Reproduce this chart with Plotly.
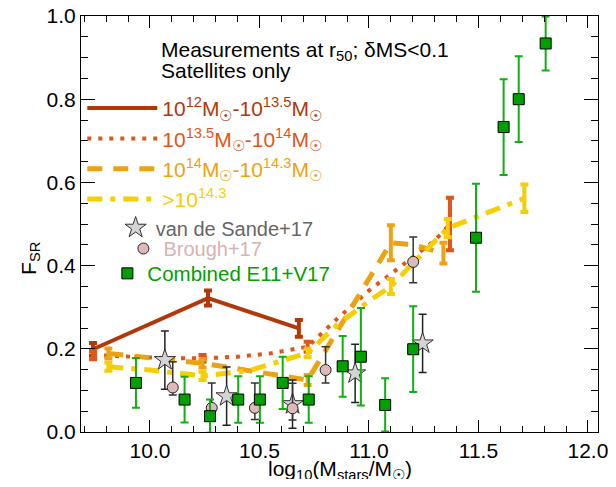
import plotly.graph_objects as go

# ---------------- data ----------------
# 10^12 - 10^13.5 Msun (solid)
solid_x = [9.74, 10.265, 10.68]
solid_y = [0.199, 0.322, 0.249]
solid_err = [0.015, 0.018, 0.02]

# 10^13.5 - 10^14 Msun (dotted)
dotted_x = [9.74, 9.9, 10.05, 10.24, 10.4, 10.55, 10.72, 10.85, 11.0, 11.15, 11.3, 11.37]
dotted_y = [0.185, 0.181, 0.178, 0.177, 0.181, 0.189, 0.205, 0.27, 0.34, 0.40, 0.46, 0.50]
dotted_err = [0.01, 0, 0, 0.008, 0, 0, 0.012, 0, 0, 0, 0, 0.063]

# 10^14 - 10^14.3 Msun (dashed)
dashed_x = [9.81, 10.05, 10.24, 10.4, 10.6, 10.72, 11.1, 11.2, 11.34]
dashed_y = [0.189, 0.175, 0.165, 0.152, 0.135, 0.125, 0.455, 0.45, 0.43]
dashed_err = [0.012, 0, 0.01, 0, 0, 0.012, 0.042, 0, 0.025]

# > 10^14.3 Msun (dash-dot)
dashdot_x = [9.81, 10.0, 10.24, 10.45, 10.72, 10.85, 11.0, 11.1, 11.2, 11.36, 11.71]
dashdot_y = [0.157, 0.149, 0.135, 0.147, 0.19, 0.255, 0.315, 0.35, 0.405, 0.49, 0.562]
dashdot_err = [0.01, 0, 0.01, 0, 0.01, 0, 0, 0.018, 0, 0.022, 0.033]

# van de Sande+17 (stars)
star_x = [10.068, 10.350, 10.651, 10.937, 11.245]
star_y = [0.173, 0.086, 0.067, 0.141, 0.213]
star_err = [0.07, 0.07, 0.058, 0.07, 0.07]

# Brough+17 (circles)
circ_x = [10.104, 10.282, 10.479, 10.651, 10.802, 11.202]
circ_y = [0.107, 0.058, 0.058, 0.057, 0.149, 0.409]
circ_err_plus = [0.062, 0.06, 0.06, 0.06, 0.056, 0.06]
circ_err_minus = [0.018, 0.028, 0.028, 0.028, 0.031, 0.05]

# Combined E11+V17 (squares)
green_x = [9.936, 10.158, 10.274, 10.403, 10.502, 10.606, 10.725, 10.880, 10.963,
           11.074, 11.202, 11.489, 11.615, 11.684, 11.807]
green_y = [0.118, 0.078, 0.038, 0.078, 0.078, 0.118, 0.078, 0.158, 0.181,
           0.065, 0.199, 0.467, 0.733, 0.800, 0.934]
green_err = [0.06, 0.055, 0.04, 0.056, 0.056, 0.063, 0.056, 0.073, 0.117,
             0.064, 0.103, 0.13, 0.115, 0.103, 0.065]

x_ticks = [10.0, 10.5, 11.0, 11.5, 12.0]
y_ticks = [0.0, 0.2, 0.4, 0.6, 0.8, 1.0]

SUN = "☉"
labels = [
    f"10<sup>12</sup>M<sub>{SUN}</sub>-10<sup>13.5</sup>M<sub>{SUN}</sub>",
    f"10<sup>13.5</sup>M<sub>{SUN}</sub>-10<sup>14</sup>M<sub>{SUN}</sub>",
    f"10<sup>14</sup>M<sub>{SUN}</sub>-10<sup>14.3</sup>M<sub>{SUN}</sub>",
    ">10<sup>14.3</sup>",
]

# ---------------- styles ----------------
C_SOLID = "#B2380A"
C_DOT = "#E0561A"
C_DASH = "#EBA313"
C_DDOT = "#F5CE05"
FONT = "Liberation Sans, Arial, sans-serif"

fig = go.Figure()

series = [
    (solid_x, solid_y, solid_err, C_SOLID, "solid", 4),
    (dotted_x, dotted_y, dotted_err, C_DOT, "4px,7px", 4),
    (dashed_x, dashed_y, dashed_err, C_DASH, "15px,11px", 5),
    (dashdot_x, dashdot_y, dashdot_err, C_DDOT, "15px,8px,5px,8px", 5),
]
for (xs, ys, es, col, dash, w), lab in zip(series, labels):
    fig.add_trace(go.Scatter(
        x=xs, y=ys, mode="lines", line=dict(color=col, width=w, dash=dash),
        name=f'<span style="color:{col}">{lab}</span>', legend="legend"))
    ex = [x for x, e in zip(xs, es) if e > 0]
    ey = [y for y, e in zip(ys, es) if e > 0]
    ee = [e for e in es if e > 0]
    fig.add_trace(go.Scatter(
        x=ex, y=ey, mode="markers", marker=dict(size=1, opacity=0),
        error_y=dict(type="data", array=ee, color=col, thickness=4, width=4),
        showlegend=False, hoverinfo="skip"))

fig.add_trace(go.Scatter(
    x=star_x, y=star_y, mode="markers",
    marker=dict(symbol="star", size=16, color="#D4D4D4", line=dict(color="#333333", width=1)),
    error_y=dict(type="data", array=star_err, color="#222222", thickness=1.5, width=4),
    name='<span style="color:#666666">van de Sande+17</span>', legend="legend2"))
fig.add_trace(go.Scatter(
    x=circ_x, y=circ_y, mode="markers",
    marker=dict(symbol="circle", size=11, color="#DDB9B9", line=dict(color="#222222", width=1)),
    error_y=dict(type="data", symmetric=False, array=circ_err_plus, arrayminus=circ_err_minus,
                 color="#333333", thickness=1.5, width=4),
    name='<span style="color:#D8B2B2">Brough+17</span>', legend="legend3"))
fig.add_trace(go.Scatter(
    x=green_x, y=green_y, mode="markers",
    marker=dict(symbol="square", size=11, color="#00A000", line=dict(color="#000000", width=1)),
    error_y=dict(type="data", array=green_err, color="#10B010", thickness=2, width=4),
    name='<span style="color:#00A000">Combined E11+V17</span>', legend="legend4"))

hdr = dict(xref="paper", yref="paper", xanchor="left", yanchor="middle",
           showarrow=False, font=dict(family=FONT, size=21, color="black"))
fig.add_annotation(x=0.151, y=0.915, text="Measurements at r<sub>50</sub>; δMS<0.1", **hdr)
fig.add_annotation(x=0.151, y=0.869, text="Satellites only", **hdr)

fig.add_annotation(xref="paper", yref="paper", x=0.501, y=-0.091, xanchor="center", yanchor="middle",
                   showarrow=False, font=dict(family=FONT, size=21, color="black"),
                   text=f"log<sub>10</sub>(M<sub>stars</sub>/M<sub>{SUN}</sub>)")
fig.add_annotation(xref="paper", yref="paper", x=-0.099, y=0.418, xanchor="center", yanchor="middle",
                   showarrow=False, textangle=-90, font=dict(family=FONT, size=21, color="black"),
                   text="F<sub>SR</sub>")

leg = dict(xanchor="left", yanchor="top", bgcolor="rgba(0,0,0,0)", tracegroupgap=0)
# the page body has an 8px margin: the figure is sized to fit the 616x487 window
fig.update_layout(
    width=600, height=471,
    margin=dict(l=73, r=10, t=7.5, b=47, autoexpand=False),
    paper_bgcolor="white", plot_bgcolor="white",
    font=dict(family=FONT, size=21, color="black"),
    legend=dict(x=0.0025, y=0.827, itemwidth=70, font=dict(size=21), **leg),
    legend2=dict(x=0.067, y=0.538, itemwidth=30, font=dict(size=20), **leg),
    legend3=dict(x=0.082, y=0.488, itemwidth=30, font=dict(size=20), **leg),
    legend4=dict(x=0.051, y=0.429, itemwidth=30, font=dict(size=20.5), **leg),
    xaxis=dict(range=[9.685, 12.046], tickvals=x_ticks,
               ticktext=[f"{v:.1f}" for v in x_ticks], automargin=False,
               ticklabeloverflow="allow",
               ticks="inside", ticklen=12, tickcolor="black", showline=True, linecolor="black",
               linewidth=1, mirror="ticks", showgrid=False, zeroline=False,
               minor=dict(dtick=0.1, tick0=9.7, ticks="inside", ticklen=6, tickcolor="black")),
    yaxis=dict(range=[0, 1.0], tickvals=y_ticks,
               ticktext=[f"{v:.1f}" for v in y_ticks], automargin=False,
               ticklabeloverflow="allow",
               ticks="inside", ticklen=14, tickcolor="black", showline=True, linecolor="black",
               linewidth=1, mirror="ticks", showgrid=False, zeroline=False,
               minor=dict(dtick=0.05, tick0=0, ticks="inside", ticklen=7, tickcolor="black")),
)

fig.write_html("out.html")
